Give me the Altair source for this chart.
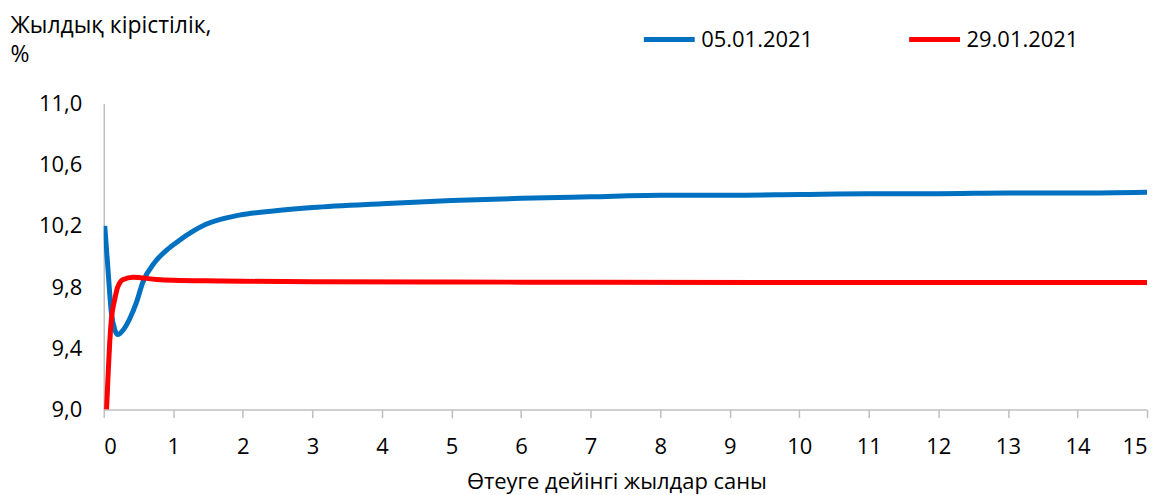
import altair as alt
import pandas as pd

# Series 05.01.2021 (blue)
blue_x = [0.014, 0.057, 0.11, 0.16, 0.2, 0.28, 0.37, 0.47, 0.56, 0.73, 0.9, 1.07,
          1.47, 1.95, 2.5, 3, 4, 5, 6, 7, 8, 9, 10, 11, 12, 13, 14, 15]
blue_y = [10.20, 9.94, 9.63, 9.52, 9.49, 9.52, 9.59, 9.70, 9.83, 9.96, 10.04, 10.10,
          10.21, 10.27, 10.30, 10.32, 10.345, 10.365, 10.38, 10.39, 10.40, 10.40, 10.405,
          10.41, 10.41, 10.415, 10.415, 10.42]

# Series 29.01.2021 (red)
red_x = [0.04, 0.062, 0.086, 0.11, 0.158, 0.2, 0.28, 0.42, 0.76, 1.0, 1.7, 2, 3, 5, 7,
         10, 12, 15]
red_y = [9.00, 9.22, 9.44, 9.59, 9.72, 9.80, 9.85, 9.865, 9.85, 9.845, 9.84, 9.838,
         9.835, 9.833, 9.832, 9.83, 9.83, 9.83]

series_names = ["05.01.2021", "29.01.2021"]
series_colors = ["#0070C0", "#FF0000"]

x_ticks = list(range(0, 16))
y_ticks = [9.0, 9.4, 9.8, 10.2, 10.6, 11.0]

x_title = "Өтеуге дейінгі жылдар саны"
y_title = ["Жылдық кірістілік,", "%"]

df = pd.concat([
    pd.DataFrame({"x": blue_x, "y": blue_y, "s": series_names[0], "o": range(len(blue_x))}),
    pd.DataFrame({"x": red_x, "y": red_y, "s": series_names[1], "o": range(len(red_x))}),
])

FONT = "Open Sans"
GRAY = "#BFBFBF"

chart = alt.Chart(df).mark_line(strokeWidth=5, interpolate="monotone", clip=True).encode(
    x=alt.X("x:Q",
            scale=alt.Scale(domain=[0, 15], nice=False, zero=False),
            axis=alt.Axis(values=x_ticks, title=x_title, grid=False,
                          domainColor=GRAY, domainWidth=1.5, tickColor=GRAY, tickWidth=1.5,
                          tickSize=8, labelFontSize=22, labelPadding=19,
                          labelColor="#000000", labelFont=FONT, labelFontWeight="normal",
                          titleFont=FONT, titleFontSize=22, titleFontWeight="normal",
                          titleColor="#000000", titlePadding=14, titleX=514)),
    y=alt.Y("y:Q",
            scale=alt.Scale(domain=[9, 11], nice=False, zero=False),
            axis=alt.Axis(values=y_ticks, grid=False, ticks=False,
                          labelExpr="replace(format(datum.value, '.1f'), '.', ',')",
                          domainColor=GRAY, domainWidth=1.5,
                          labelFontSize=22, labelPadding=22, labelColor="#000000",
                          labelFont=FONT,
                          title=y_title, titleAngle=0, titleAlign="left",
                          titleBaseline="top", titleX=-94, titleY=-89,
                          titleFont=FONT, titleFontSize=23, titleFontWeight="normal",
                          titleColor="#000000", titleLineHeight=29)),
    color=alt.Color("s:N",
                    scale=alt.Scale(domain=series_names, range=series_colors),
                    legend=alt.Legend(title=None, orient="none", direction="horizontal",
                                      legendX=539, legendY=-92,
                                      symbolType="stroke", symbolSize=2600,
                                      symbolStrokeWidth=5, labelFontSize=22,
                                      labelFont=FONT, labelColor="#000000",
                                      labelOffset=4, columnPadding=85, padding=0)),
    order="o:Q",
).properties(
    width=1046,
    height=307,
    autosize=alt.AutoSizeParams(type="none"),
    padding={"left": 96, "top": 95, "right": 10, "bottom": 88},
).configure_view(stroke=None)

chart.save("out.html", embed_options={"renderer": "svg", "actions": False})
